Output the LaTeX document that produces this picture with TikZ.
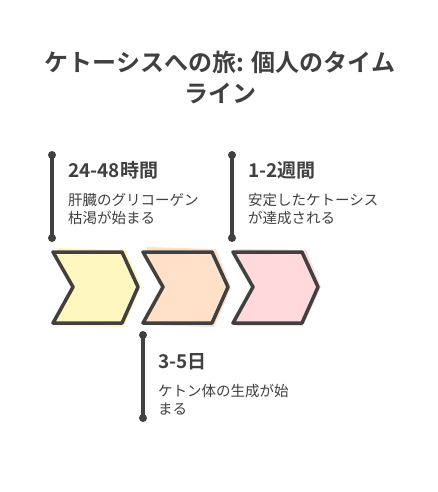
\documentclass[tikz,border=0pt]{standalone}
\usepackage{fontspec}
\setmainfont{Noto Sans CJK JP}
\newfontfamily\headfont{Noto Sans CJK JP Bold}
\usetikzlibrary{positioning}

\definecolor{inkgray}{HTML}{404040}
\definecolor{lemon}{HTML}{FFF7BF}
\definecolor{peach}{HTML}{FFE0C9}
\definecolor{blush}{HTML}{FFD9DB}

\tikzset{
  chevron/.style={draw=inkgray, line width=3.5pt, line join=round},
  marker/.style={draw=inkgray, line width=3.2pt},
  markdot/.style={fill=inkgray},
  phase/.style={anchor=west, inner sep=0pt, font=\headfont\fontsize{19}{22}\selectfont, text=inkgray},
  blurb/.style={anchor=north west, inner sep=0pt, align=left, font=\fontsize{14.5}{18}\selectfont, text=inkgray}
}

\begin{document}
\begin{tikzpicture}[x=1pt, y=-1pt]

\useasboundingbox[fill=white] (0,0) rectangle (438,492);

% title
\node[font=\headfont\fontsize{24}{31}\selectfont, text=inkgray, align=center] (title) at (220,77)
  {ケトーシスへの旅: 個人のタイム\\ライン};

% chevrons
\fill[lemon] (56,248) -- (126,250) -- (141,286) -- (124,327) -- (57,326) -- (76,289) -- cycle;
\draw[chevron, fill=lemon] (53,252) -- (122,252) -- (138,287) -- (122,323) -- (53,323) -- (73,287) -- cycle;

\fill[peach] (146,247) -- (216,249) -- (231,288) -- (214,327) -- (146,325) -- (166,286) -- cycle;
\draw[chevron, fill=peach] (143,252) -- (212,252) -- (228,287) -- (212,323) -- (143,323) -- (163,287) -- cycle;

\fill[blush] (236,249) -- (306,250) -- (321,287) -- (303,326) -- (236,326) -- (256,288) -- cycle;
\draw[chevron, fill=blush] (233,252) -- (302,252) -- (318,287) -- (302,323) -- (233,323) -- (253,287) -- cycle;

% markers
\coordinate (m1top) at (52,155);
\coordinate (m1bot) at (52,238);
\draw[marker] (m1top) -- (m1bot);
\fill[markdot] (m1top) circle (4pt) (m1bot) circle (4pt);

\coordinate (m2top) at (143,335);
\coordinate (m2bot) at (143,418);
\draw[marker] (m2top) -- (m2bot);
\fill[markdot] (m2top) circle (4pt) (m2bot) circle (4pt);

\coordinate (m3top) at (232,155);
\coordinate (m3bot) at (232,238);
\draw[marker] (m3top) -- (m3bot);
\fill[markdot] (m3top) circle (4pt) (m3bot) circle (4pt);

% labels
\node[phase] (p1) at (68,170) {24-48時間};
\node[blurb] (d1) at (68,193) {肝臓のグリコーゲン\\枯渇が始まる};

\node[phase] (p2) at (158,362) {3-5日};
\node[blurb] (d2) at (158,384) {ケトン体の生成が始\\まる};

\node[phase] (p3) at (248,170) {1-2週間};
\node[blurb] (d3) at (248,193) {安定したケトーシス\\が達成される};

\end{tikzpicture}
\end{document}
